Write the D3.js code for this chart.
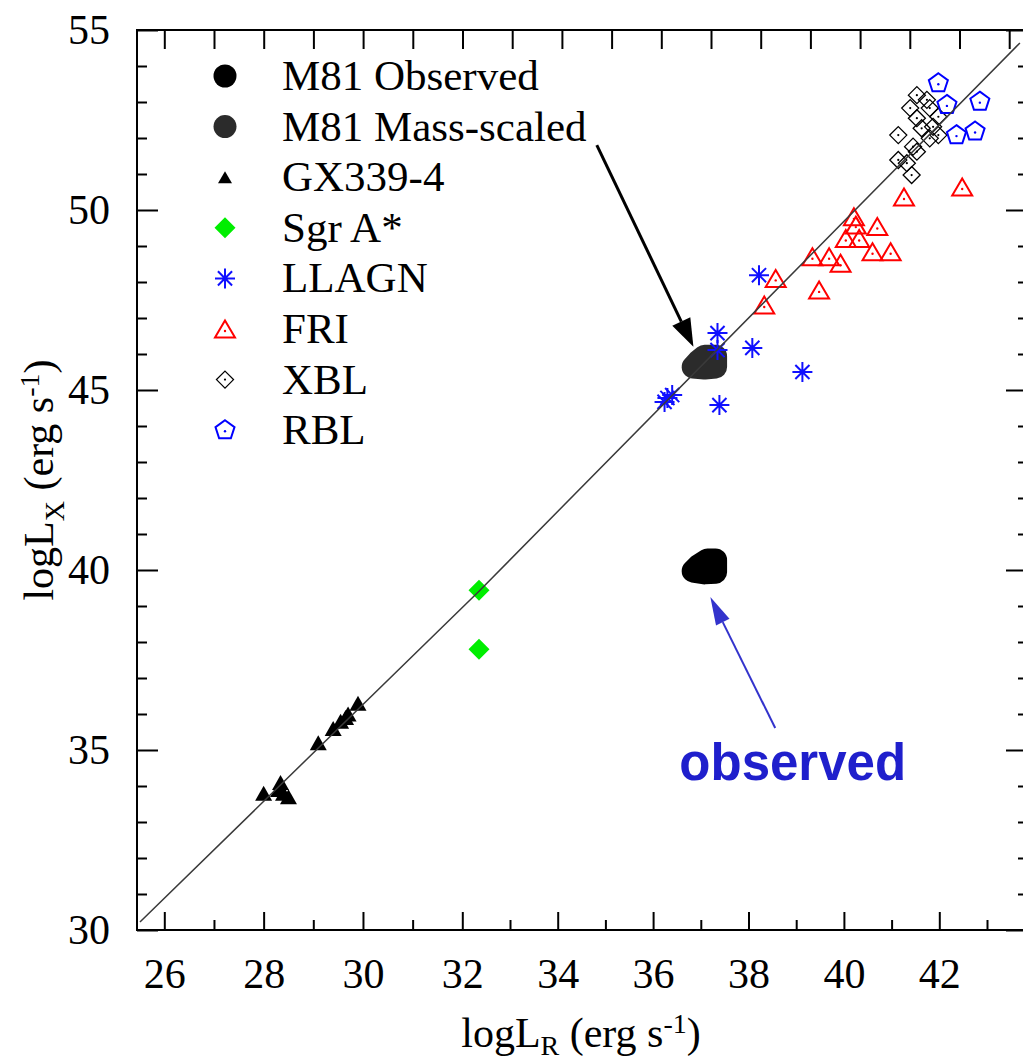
<!DOCTYPE html>
<html><head><meta charset="utf-8">
<script src="https://d3js.org/d3.v7.min.js"></script>
<style>
body{margin:0;background:#fff}
svg{display:block}
text{font-family:"Liberation Serif","Times New Roman",serif;fill:#000}
</style></head><body>
<script>
// ---------------- data ----------------
const xTickLabels = [26, 28, 30, 32, 34, 36, 38, 40, 42];
const yTickLabels = [30, 35, 40, 45, 50, 55];
const legendNames = ["M81 Observed", "M81 Mass-scaled", "GX339-4", "Sgr A*", "LLAGN", "FRI", "XBL", "RBL"];

const m81Observed = [[36.84,39.97],[36.95,40.12],[37.08,39.92],[37.31,39.94],[37.31,40.28],[37.14,40.28]];
const m81MassScaled = [[36.84,45.64],[36.95,45.8],[37.08,45.94],[37.31,45.94],[37.31,45.64],[37.08,45.61]];
const gx339 = [[28.0,33.8],[28.34,34.1],[28.4,33.8],[28.5,33.7],[28.3,33.9],[29.1,35.2],[29.4,35.6],[29.55,35.8],[29.7,36.0],[29.9,36.3],[29.65,35.9]];
const sgrA = [[32.35,39.44],[32.35,37.8]];
const llagn = [[38.22,48.19],[37.35,46.58],[37.35,46.11],[38.08,46.17],[39.13,45.5],[37.39,44.58],[36.3,44.78],[36.4,44.86],[36.24,44.67]];
const fri = [[40.21,49.81],[40.25,49.58],[40.04,49.21],[40.32,49.21],[40.7,49.54],[40.6,48.84],[40.98,48.84],[39.93,48.52],[39.69,48.7],[39.34,48.7],[38.57,48.1],[39.48,47.78],[38.33,47.36],[41.26,50.36],[42.48,50.64]];
const xbl = [[41.53,53.19],[41.74,53.06],[41.39,52.83],[41.8,52.83],[41.53,52.55],[41.98,52.59],[41.14,52.08],[41.63,52.27],[41.87,52.31],[41.8,51.99],[41.98,52.08],[41.45,51.76],[41.53,51.62],[41.14,51.39],[41.32,51.3],[41.42,50.97]];
const rbl = [[41.98,53.52],[42.16,52.92],[42.85,53.01],[42.36,52.08],[42.75,52.18]];
const fitLine = [[25.51,30.22],[32.35,39.41],[43.69,54.64]];
const arrowBlack = [[34.82,51.8],[36.845,46.2]];
const arrowBlue = [[38.56,35.61],[37.2,39.25]];
const observedLabel = {x:36.55, y:34.17, text:"observed"};

// ---------------- layout ----------------
const W = 1023, H = 1064;
const L = 137, R = 1026, T = 30, B = 930;
const svg = d3.select("body").append("svg").attr("width", W).attr("height", H);

const x = d3.scaleLinear().domain([26, 32, 43]).range([164.3, 462.3, 987]);
const xTop = d3.scaleLinear().domain([26, 43]).range([164.3, 1009.2]);
const y = d3.scaleLinear().domain([30, 55]).range([B, T]);

// frame
svg.append("rect").attr("x", L).attr("y", T).attr("width", R - L).attr("height", B - T)
  .attr("fill", "none").attr("stroke", "#000").attr("stroke-width", 2);

function styleAxis(g){
  g.select(".domain").remove();
  g.selectAll(".tick line").attr("stroke", "#000").attr("stroke-width", 2);
  g.selectAll("text").style("font-family", '"Liberation Serif","Times New Roman",serif').style("font-size", "42px").attr("fill", "#000");
}
// bottom
svg.append("g").attr("transform", `translate(0,${B})`)
  .call(d3.axisBottom(x).tickValues(xTickLabels).tickSize(-18).tickPadding(28).tickFormat(d3.format("d"))).call(styleAxis);
svg.append("g").attr("transform", `translate(0,${B})`)
  .call(d3.axisBottom(x).tickValues(d3.range(27, 44, 2)).tickSize(-10).tickFormat("")).call(styleAxis);
// top
svg.append("g").attr("transform", `translate(0,${T})`)
  .call(d3.axisTop(xTop).tickValues(d3.range(26, 44)).tickSize(-19).tickFormat("")).call(styleAxis);
// left
svg.append("g").attr("transform", `translate(${L},0)`)
  .call(d3.axisLeft(y).tickValues(yTickLabels).tickSize(-21).tickPadding(27).tickFormat(d3.format("d"))).call(styleAxis);
svg.append("g").attr("transform", `translate(${L},0)`)
  .call(d3.axisLeft(y).tickValues(d3.range(31, 55).filter(v => v % 5)).tickSize(-10).tickFormat("")).call(styleAxis);
// right
svg.append("g").attr("transform", `translate(${R},0)`)
  .call(d3.axisRight(y).tickValues(yTickLabels).tickSize(-20).tickFormat("")).call(styleAxis);
svg.append("g").attr("transform", `translate(${R},0)`)
  .call(d3.axisRight(y).tickValues(d3.range(31, 55).filter(v => v % 5)).tickSize(-8).tickFormat("")).call(styleAxis);

// axis titles
const xt = svg.append("text").attr("x", 581).attr("y", 1047).attr("text-anchor", "middle").style("font-size", "42px");
xt.append("tspan").text("logL");
xt.append("tspan").attr("dy", 8).style("font-size", "28px").text("R");
xt.append("tspan").attr("dy", -8).text(" (erg s");
xt.append("tspan").attr("dy", -14).style("font-size", "28px").text("-1");
xt.append("tspan").attr("dy", 14).text(")");

const yt = svg.append("text").attr("transform", "translate(53,480) rotate(-90)").attr("text-anchor", "middle").style("font-size", "42px");
yt.append("tspan").text("logL");
yt.append("tspan").attr("dy", 11).style("font-size", "28px").text("X");
yt.append("tspan").attr("dy", -11).text(" (erg s");
yt.append("tspan").attr("dy", -14).style("font-size", "28px").text("-1");
yt.append("tspan").attr("dy", 14).text(")");

// ---------------- marker shapes ----------------
function triPath(w, h){ return `M0,${-h/2}L${w/2},${h/2}L${-w/2},${h/2}Z`; }
function diaPath(r){ return `M0,${-r}L${r},0L0,${r}L${-r},0Z`; }
function starPath(r){
  const d = r * Math.SQRT1_2;
  return `M0,${-r}L0,${r}M${-r},0L${r},0M${-d},${-d}L${d},${d}M${-d},${d}L${d},${-d}`;
}
function pentPath(r){
  const p = d3.range(5).map(i => { const a = -Math.PI/2 + i * 2*Math.PI/5; return [r*Math.cos(a), r*Math.sin(a)]; });
  return "M" + p.map(q => q.join(",")).join("L") + "Z";
}
// blob = points merged into one rounded shape (hull stroked with round joins)
function blob(data, color){
  const hull = d3.polygonHull(data.map(d => [x(d[0]), y(d[1])]));
  svg.append("path").attr("d", "M" + hull.join("L") + "Z")
    .attr("fill", color).attr("stroke", color).attr("stroke-width", 23).attr("stroke-linejoin", "round");
}
const styles = {
  "M81 Observed":    {data: m81Observed, blob: "#000", draw: g => g.append("circle").attr("r", 11.5).attr("fill", "#000")},
  "M81 Mass-scaled": {data: m81MassScaled, blob: "#2b2b2b", draw: g => g.append("circle").attr("r", 11.5).attr("fill", "#2b2b2b")},
  "GX339-4":         {data: gx339, draw: (g, leg) => g.append("path").attr("d", leg ? triPath(14, 12) : triPath(17, 15)).attr("fill", "#000")},
  "Sgr A*":          {data: sgrA, draw: g => g.append("path").attr("d", diaPath(10.5)).attr("fill", "#00ee00")},
  "LLAGN":           {data: llagn, draw: g => g.append("path").attr("d", starPath(10)).attr("stroke", "#1010ff").attr("stroke-width", 2).attr("fill", "none")},
  "FRI":             {data: fri, draw: g => { g.append("path").attr("d", triPath(20, 17)).attr("stroke", "#ff0000").attr("stroke-width", 2).attr("fill", "none");
                                              g.append("circle").attr("r", 1.2).attr("cy", 2).attr("fill", "#ff0000"); }},
  "XBL":             {data: xbl, draw: g => { g.append("path").attr("d", diaPath(8.5)).attr("stroke", "#000").attr("stroke-width", 1.3).attr("fill", "none");
                                              g.append("circle").attr("r", 1.1).attr("fill", "#000"); }},
  "RBL":             {data: rbl, draw: g => { g.append("path").attr("d", pentPath(10)).attr("stroke", "#0000ff").attr("stroke-width", 2).attr("fill", "none");
                                              g.append("circle").attr("r", 1.2).attr("cy", 1).attr("fill", "#0000ff"); }}
};

legendNames.forEach(name => {
  const s = styles[name];
  if (s.blob) { blob(s.data, s.blob); return; }
  s.data.forEach(d => {
    const g = svg.append("g").attr("transform", `translate(${x(d[0])},${y(d[1])})`);
    s.draw(g, false);
  });
});

// fit line
const line = d3.line().x(d => x(d[0])).y(d => y(d[1]));
svg.append("path").attr("d", line(fitLine)).attr("fill", "none").attr("stroke", "#3a3a3a").attr("stroke-width", 1.5);

// legend
legendNames.forEach((name, i) => {
  const cy = 76 + i * 50.6;
  const g = svg.append("g").attr("transform", `translate(225,${cy})`);
  styles[name].draw(g, true);
  svg.append("text").attr("x", 282).attr("y", cy + 14).style("font-size", "43px").text(name);
});

// arrows
function arrow(pts, color, w, headLen, headW){
  const [x0, y0] = [x(pts[0][0]), y(pts[0][1])];
  const [x1, y1] = [x(pts[1][0]), y(pts[1][1])];
  const a = Math.atan2(y1 - y0, x1 - x0);
  const bx = x1 - headLen * Math.cos(a), by = y1 - headLen * Math.sin(a);
  svg.append("line").attr("x1", x0).attr("y1", y0).attr("x2", bx).attr("y2", by).attr("stroke", color).attr("stroke-width", w);
  const nx = -Math.sin(a) * headW/2, ny = Math.cos(a) * headW/2;
  svg.append("path").attr("d", `M${x1},${y1}L${bx+nx},${by+ny}L${bx-nx},${by-ny}Z`).attr("fill", color);
}
arrow(arrowBlack, "#000", 3, 28, 20);
arrow(arrowBlue, "#3333cc", 2, 28, 15);

svg.append("text").attr("x", x(observedLabel.x)).attr("y", y(observedLabel.y))
  .style("font-family", '"Liberation Sans",Arial,sans-serif').style("font-weight", "bold").style("font-size", "51px")
  .style("fill", "#1f1fcc").text(observedLabel.text);
</script>
</body></html>
